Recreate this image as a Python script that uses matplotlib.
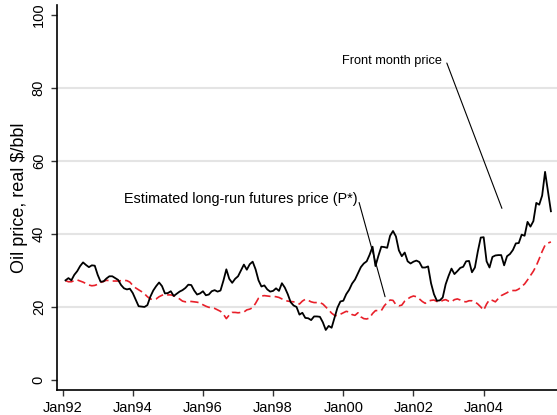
import numpy as np
import matplotlib.pyplot as plt

plt.rcParams['font.family'] = ['Liberation Sans', 'DejaVu Sans']

# monthly data, Feb 1992 .. Dec 2005
front_month = [
    27.3, 27.9, 27.3, 28.8, 29.8, 31.2, 32.2, 31.5, 30.9, 31.4, 31.3,
    28.8, 26.9, 27.0, 27.8, 28.4, 28.4, 27.9, 27.4, 26.0, 25.1, 24.8, 25.0,
    23.8, 22.0, 20.2, 20.1, 20.0, 20.5, 22.8, 24.5, 25.7, 26.7, 25.7, 23.7,
    23.8, 24.3, 23.0, 23.6, 24.2, 24.6, 25.2, 26.1, 26.0, 24.5, 23.4, 23.7,
    24.3, 23.2, 23.4, 24.3, 24.6, 24.2, 24.5, 27.2, 30.3, 27.7, 26.6, 27.7,
    28.4, 30.0, 31.6, 30.2, 31.7, 32.4, 30.3, 27.3, 25.6, 25.9, 24.8, 24.2,
    24.4, 25.1, 24.4, 26.5, 25.3, 23.5, 21.3, 20.4, 20.0, 17.9, 18.4, 17.0,
    16.9, 16.4, 17.4, 17.4, 17.3, 15.8, 13.7, 14.8, 14.3, 17.0, 19.8, 21.5,
    21.7, 23.5, 24.7, 26.4, 27.5, 29.2, 30.9, 31.9, 32.5, 34.3, 36.5, 31.2,
    34.0, 36.5, 36.4, 36.2, 39.5, 40.8, 39.3, 35.5, 33.9, 34.9, 32.5, 31.9,
    32.4, 32.7, 32.3, 30.8, 30.8, 31.1, 26.5, 23.5, 21.7, 21.8, 22.6, 26.2,
    28.5, 30.5, 29.0, 29.8, 30.7, 31.0, 32.5, 32.6, 29.5, 30.8, 35.2, 39.0,
    39.1, 32.5, 30.8, 33.7, 34.1, 34.2, 34.2, 31.4, 33.9, 34.5, 35.6, 37.4,
    37.5, 39.8, 39.5, 43.3, 42.0, 43.5, 48.5, 48.0, 50.5, 57.0, 51.6, 46.2,
]
long_run = [
    27.2, 26.9, 26.9, 27.2, 27.4, 27.1, 26.8, 26.4, 26.0, 25.8, 25.9,
    26.2, 26.7, 27.0, 27.3, 27.2, 27.1, 27.1, 27.1, 27.2, 27.3, 27.2, 26.8,
    25.9, 25.2, 24.7, 24.2, 23.6, 22.8, 22.2, 22.0, 22.2, 22.8, 23.2, 23.5,
    23.3, 23.3, 23.1, 22.6, 22.2, 21.6, 21.4, 21.5, 21.5, 21.4, 21.3, 21.1,
    20.6, 20.2, 19.9, 19.8, 19.6, 19.2, 18.8, 18.0, 16.8, 17.8, 18.5, 18.5,
    18.4, 18.5, 18.6, 19.2, 19.4, 19.8, 21.0, 22.4, 23.0, 23.1, 23.0, 22.9,
    22.9, 22.8, 22.6, 22.2, 21.8, 21.6, 21.5, 21.4, 21.2, 20.8, 21.6, 22.1,
    21.8, 21.4, 21.2, 21.2, 21.2, 20.8, 20.0, 19.2, 18.3, 17.7, 17.6, 18.0,
    18.4, 18.8, 18.6, 17.9, 17.7, 18.4, 17.3, 16.8, 16.7, 17.0, 18.2, 19.0,
    19.0, 19.0, 20.3, 21.2, 21.9, 21.8, 20.6, 20.3, 20.5, 21.6, 22.2, 22.7,
    23.0, 22.8, 22.2, 21.5, 21.0, 21.6, 21.8, 21.9, 21.5, 21.3, 21.8, 22.0,
    21.6, 21.4, 22.0, 22.2, 21.9, 21.5, 21.4, 21.7, 21.7, 21.4, 20.8, 20.0,
    19.1, 20.8, 22.0, 21.8, 21.4, 22.3, 23.1, 23.5, 23.9, 24.4, 24.5, 24.5,
    24.9, 25.6, 26.3, 27.4, 28.6, 29.8, 31.3, 33.2, 35.2, 36.9, 37.5, 37.8,
]
tick_years = [1992, 1994, 1996, 1998, 2000, 2002, 2004]
tick_labels = ["Jan92", "Jan94", "Jan96", "Jan98", "Jan00", "Jan02", "Jan04"]
y_ticks = [0, 20, 40, 60, 80, 100]

months = np.arange(1, len(front_month) + 1)
t = 1992 + months / 12.0

fig = plt.figure(figsize=(5.57, 4.15), dpi=100)
ax = fig.add_axes([0.1023, 0.0602, 0.8977, 0.9278])

for g in [20, 40, 60, 80]:
    ax.axhline(g, color='#e4e4e4', lw=1.5, zorder=0)

ax.plot(t, front_month, color='black', lw=1.3, zorder=3)
ax.plot(t, long_run, color='#e8202a', lw=1.2, dashes=(5, 2.5), zorder=2)

# labels with pointer lines
line_kw = dict(arrowstyle='-', color='black', lw=0.8, shrinkA=0, shrinkB=0)
ax.annotate("", xy=(2004.52, 47.0), xytext=(2002.95, 86.8), arrowprops=line_kw)
ax.text(2002.81, 87.4, "Front month price", ha='right', va='center',
        fontsize=9.2)
ax.annotate("", xy=(2001.19, 22.8), xytext=(2000.45, 48.6), arrowprops=line_kw)
ax.text(2000.40, 49.6, "Estimated long-run futures price (P*)", ha='right',
        va='center', fontsize=10.4)

ax.set_xlim(1991.84, 2006.09)
ax.set_ylim(-2.75, 102.7)
ax.set_xticks(tick_years)
ax.set_xticklabels(tick_labels, fontsize=10.5)
ax.set_yticks(y_ticks)
ax.set_yticklabels([str(v) for v in y_ticks], fontsize=10.5, rotation=90,
                   va='center')
ax.set_ylabel("Oil price, real $/bbl", fontsize=13, labelpad=3)
ax.tick_params(direction='out', length=4.5, width=1, color='#333333')
ax.spines['top'].set_visible(False)
ax.spines['right'].set_visible(False)
ax.spines['left'].set_linewidth(1.2)
ax.spines['bottom'].set_linewidth(1.2)

fig.savefig("out.png", dpi=100)
